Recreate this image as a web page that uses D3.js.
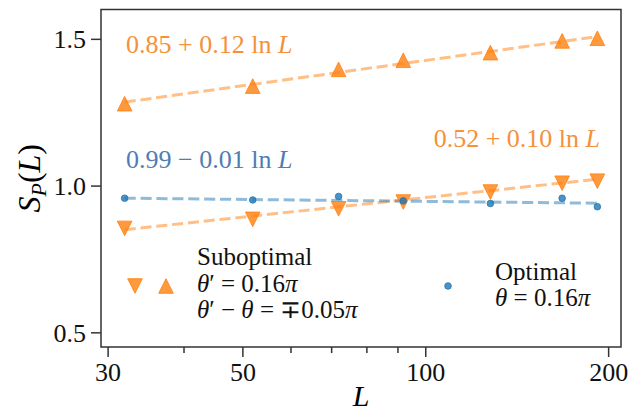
<!DOCTYPE html>
<html>
<head>
<meta charset="utf-8">
<script src="https://cdn.jsdelivr.net/npm/d3@7"></script>
<style>
  html, body { margin: 0; padding: 0; background: #fff; }
  svg { display: block; }
</style>
</head>
<body>
<svg id="chart" width="641" height="418" style="font-family: 'Liberation Serif'"></svg>
<script>
// System sizes L
const sizes = [32, 52, 72, 92, 128, 168, 192];

// Entropy S_P(L) for each setting
const subUp   = [1.279, 1.339, 1.396, 1.427, 1.453, 1.493, 1.502]; // theta' - theta = -0.05 pi
const subDown = [0.854, 0.885, 0.921, 0.944, 0.978, 1.008, 1.015]; // theta' - theta = +0.05 pi
const optimal = [0.957, 0.951, 0.963, 0.948, 0.939, 0.957, 0.928]; // theta = 0.16 pi

// Fits a + b ln L
const fitUp   = { a: 0.853, b: 0.1245 };
const fitDown = { a: 0.517, b: 0.0960 };
const fitOpt  = { a: 0.990, b: -0.0095 };

const xTicks = [30, 50, 100, 200];
const xMinorTicks = [40, 60, 70, 80, 90];
const yTicks = [0.5, 1.0, 1.5];

const SERIF = '"Liberation Serif"';
const plot = { left: 101, right: 621, top: 9.5, bottom: 347 };

const svg = d3.select("#chart");

// text helper: every label gets the serif face when it is created
function addText(parent, size) {
  return parent.append("text")
    .style("font-family", SERIF)
    .style("font-size", size + "px");
}

// log axis padded by 5% of the data span (in log space)
const lo = Math.log10(d3.min(sizes)), hi = Math.log10(d3.max(sizes));
const pad = 0.05 * (hi - lo);
const xScale = d3.scaleLog()
  .domain([Math.pow(10, lo - pad), Math.pow(10, hi + pad)])
  .range([plot.left, plot.right]);
const yScale = d3.scaleLinear().domain([0.45, 1.6]).range([plot.bottom, plot.top]);

const ORANGE = "#ff7f0e", BLUE = "#1f77b4";

// fit lines
function fitLine(fit, color) {
  const pts = sizes.map(L => [L, fit.a + fit.b * Math.log(L)]);
  svg.append("path")
    .attr("d", d3.line().x(d => xScale(d[0])).y(d => yScale(d[1]))(pts))
    .attr("fill", "none")
    .attr("stroke", color)
    .attr("stroke-opacity", 0.5)
    .attr("stroke-width", 3)
    .attr("stroke-dasharray", "11.1 4.8");
}
fitLine(fitUp, ORANGE);
fitLine(fitDown, ORANGE);
fitLine(fitOpt, BLUE);

// markers
const s = 7.3;
const triUp = `M0,${-s}L${-s},${s}L${s},${s}Z`;
const triDown = `M0,${s}L${-s},${-s}L${s},${-s}Z`;

function styleMark(sel, color) {
  return sel.attr("fill", color).attr("fill-opacity", 0.8)
    .attr("stroke", color).attr("stroke-opacity", 0.8).attr("stroke-width", 1);
}

function triangles(vals, path) {
  svg.append("g").selectAll("path")
    .data(vals.map((v, i) => [sizes[i], v]))
    .join("path")
    .attr("d", path)
    .attr("transform", d => `translate(${xScale(d[0])},${yScale(d[1])})`)
    .call(styleMark, ORANGE);
}
triangles(subUp, triUp);
triangles(subDown, triDown);

svg.append("g").selectAll("circle")
  .data(optimal.map((v, i) => [sizes[i], v]))
  .join("circle")
  .attr("cx", d => xScale(d[0])).attr("cy", d => yScale(d[1])).attr("r", 3.3)
  .call(styleMark, BLUE);

// frame
svg.append("rect")
  .attr("x", plot.left).attr("y", plot.top)
  .attr("width", plot.right - plot.left).attr("height", plot.bottom - plot.top)
  .attr("fill", "none").attr("stroke", "#333").attr("stroke-width", 1.5);

// axes
const fs = 26;
const xAxis = d3.axisBottom(xScale).tickValues(xTicks).tickFormat(d3.format("d"))
  .tickSize(10).tickPadding(6);
const gx = svg.append("g").attr("transform", `translate(0,${plot.bottom})`).call(xAxis);
const xMinor = d3.axisBottom(xScale).tickValues(xMinorTicks).tickFormat("").tickSize(6);
const gxm = svg.append("g").attr("transform", `translate(0,${plot.bottom})`).call(xMinor);
const yAxis = d3.axisLeft(yScale).tickValues(yTicks).tickFormat(d3.format(".1f"))
  .tickSize(10).tickPadding(5);
const gy = svg.append("g").attr("transform", `translate(${plot.left},0)`).call(yAxis);

[gx, gxm, gy].forEach(g => {
  g.attr("font-family", null).attr("font-size", null);
  g.select(".domain").remove();
  g.selectAll(".tick line").attr("stroke", "#333").attr("stroke-width", 1.5);
  g.selectAll(".tick text")
    .style("font-family", SERIF)
    .style("font-size", fs + "px")
    .attr("fill", "#111");
});
gy.selectAll(".tick text").attr("dy", "0.35em");

// axis titles
addText(svg, 30)
  .attr("x", xScale(Math.sqrt(xScale.domain()[0] * xScale.domain()[1])))
  .attr("y", 406)
  .attr("text-anchor", "middle")
  .style("font-style", "italic")
  .text("L");

const yl = addText(svg, 32)
  .attr("transform", `translate(40,${(plot.top + plot.bottom) / 2}) rotate(-90)`)
  .attr("text-anchor", "middle");
yl.append("tspan").style("font-style", "italic").text("S");
yl.append("tspan").style("font-style", "italic").style("font-size", "22px").attr("dy", 6).text("P");
yl.append("tspan").attr("dy", -6).text("(");
yl.append("tspan").style("font-style", "italic").text("L");
yl.append("tspan").text(")");

// fit labels
const fmt = v => Math.abs(v).toFixed(2);
function fitLabel(fit, px, py, anchor, color) {
  const t = addText(svg, fs)
    .attr("x", px).attr("y", py)
    .attr("text-anchor", anchor)
    .style("fill", color);
  t.append("tspan").text(`${fmt(fit.a)} ${fit.b < 0 ? "\u2212" : "+"} ${fmt(fit.b)} ln `);
  t.append("tspan").style("font-style", "italic").text("L");
}
fitLabel(fitUp, 126, 53, "start", "#f5913a");
fitLabel(fitOpt, 126, 168, "start", "#4f7db3");
fitLabel(fitDown, 600, 147, "end", "#f5913a");

// legend
const leg = svg.append("g");
leg.append("path").attr("d", triDown).attr("transform", "translate(135,286)").call(styleMark, ORANGE);
leg.append("path").attr("d", triUp).attr("transform", "translate(166,286)").call(styleMark, ORANGE);
leg.append("circle").attr("cx", 448).attr("cy", 286).attr("r", 3.3).call(styleMark, BLUE);

function legLine(px, py, parts) {
  const t = addText(leg, 25).attr("x", px).attr("y", py).style("fill", "#111");
  parts.forEach(p => {
    const ts = t.append("tspan").text(p[0]);
    if (p[1]) ts.style("font-style", "italic");
  });
}
legLine(197, 265, [["Suboptimal"]]);
legLine(197, 291.5, [["\u03B8", 1], ["\u2032 = 0.16"], ["\u03C0", 1]]);
legLine(197, 318, [["\u03B8", 1], ["\u2032 \u2212 "], ["\u03B8", 1], [" = \u22130.05"], ["\u03C0", 1]]);
legLine(495, 280, [["Optimal"]]);
legLine(495, 306, [["\u03B8", 1], [" = 0.16"], ["\u03C0", 1]]);
</script>
</body>
</html>
